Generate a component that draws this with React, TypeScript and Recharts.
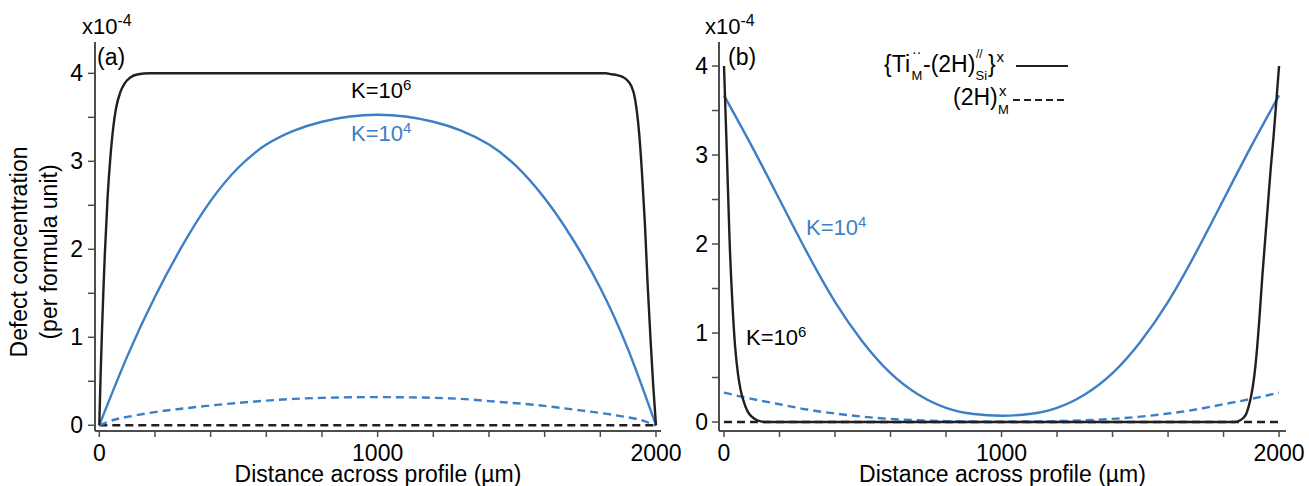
import React from "react";
import { LineChart, Line, XAxis, YAxis, Legend } from "recharts";

const FONT = '"Liberation Sans", Arial, Helvetica, sans-serif';
const BLACK = "#231f20";
const BLUE = "#3d7fc7";
const AXIS = "#4d4d4d";

// x ticks (µm) and y ticks (x10^-4)
const xTicks = [0, 200, 400, 600, 800, 1000, 1200, 1400, 1600, 1800, 2000];
const xLabelled = [0, 1000, 2000];
const yTicks = [0, 0.5, 1, 1.5, 2, 2.5, 3, 3.5, 4];

// panel (a): K=10^6 solid
const aBlackX = [0, 5, 10, 15, 20, 30, 40, 50, 60, 75, 90, 110, 140, 180, 1000, 1820, 1840, 1860, 1880, 1900, 1920, 1930, 1940, 1950, 1960, 1970, 1980, 1990, 2000];
const aBlackY = [0, 0.6, 1.1, 1.55, 1.95, 2.6, 3.05, 3.38, 3.6, 3.78, 3.88, 3.95, 3.99, 4.0, 4.0, 4.0, 3.99, 3.98, 3.96, 3.91, 3.78, 3.6, 3.3, 2.85, 2.3, 1.6, 1.0, 0.45, 0];
// panel (a): K=10^4 solid
const aBlueX = [0, 100, 200, 300, 400, 500, 600, 700, 800, 900, 1000, 1100, 1200, 1300, 1400, 1500, 1600, 1700, 1800, 1900, 2000];
const aBlueY = [0, 0.78, 1.46, 2.05, 2.55, 2.93, 3.19, 3.35, 3.45, 3.51, 3.53, 3.51, 3.45, 3.35, 3.19, 2.94, 2.58, 2.12, 1.56, 0.86, 0];
// panel (a): K=10^4 dashed
const aBlueDashX = [0, 50, 100, 200, 300, 400, 500, 600, 700, 800, 900, 1000, 1100, 1200, 1300, 1400, 1500, 1600, 1700, 1800, 1900, 1950, 2000];
const aBlueDashY = [0, 0.06, 0.095, 0.15, 0.19, 0.225, 0.255, 0.28, 0.3, 0.312, 0.318, 0.32, 0.318, 0.312, 0.3, 0.275, 0.25, 0.22, 0.18, 0.14, 0.09, 0.055, 0];
// panel (a): K=10^6 dashed
const aBlackDashX = [0, 2000];
const aBlackDashY = [0, 0];

// panel (b)
const bBlackX = [0, 10, 20, 30, 40, 50, 60, 70, 85, 100, 120, 150, 1000, 1840, 1860, 1880, 1890, 1900, 1910, 1920, 1930, 1940, 1950, 1960, 1970, 1980, 1990, 2000];
const bBlackY = [4.0, 3.05, 2.05, 1.35, 0.85, 0.55, 0.36, 0.24, 0.12, 0.06, 0.02, 0, 0, 0, 0.02, 0.08, 0.17, 0.3, 0.5, 0.8, 1.2, 1.65, 2.05, 2.45, 2.85, 3.2, 3.6, 4.0];
const bBlueX = [0, 100, 200, 300, 400, 500, 600, 700, 800, 900, 1000, 1100, 1200, 1300, 1400, 1500, 1600, 1700, 1800, 1900, 2000];
const bBlueY = [3.67, 3.1, 2.5, 1.9, 1.35, 0.9, 0.55, 0.31, 0.16, 0.09, 0.07, 0.09, 0.16, 0.31, 0.55, 0.9, 1.35, 1.9, 2.5, 3.1, 3.67];
const bBlueDashX = [0, 100, 200, 300, 400, 500, 600, 700, 800, 900, 1000, 1100, 1200, 1300, 1400, 1500, 1600, 1700, 1800, 1900, 2000];
const bBlueDashY = [0.33, 0.26, 0.2, 0.14, 0.095, 0.06, 0.035, 0.02, 0.01, 0.005, 0.003, 0.005, 0.01, 0.02, 0.035, 0.06, 0.095, 0.14, 0.2, 0.26, 0.33];
const bBlackDashX = [0, 2000];
const bBlackDashY = [0, 0];

const pts = (xs: number[], ys: number[]) => xs.map((x, i) => ({ x, y: ys[i] }));

type Series = { data: { x: number; y: number }[]; color: string; dashed?: boolean; name: string; curve: "monotone" | "natural" };

const seriesA: Series[] = [
  { name: "(2H) K=10^6", data: pts(aBlackDashX, aBlackDashY), color: BLACK, dashed: true, curve: "monotone" },
  { name: "(2H) K=10^4", data: pts(aBlueDashX, aBlueDashY), color: BLUE, dashed: true, curve: "natural" },
  { name: "Ti K=10^4", data: pts(aBlueX, aBlueY), color: BLUE, curve: "natural" },
  { name: "Ti K=10^6", data: pts(aBlackX, aBlackY), color: BLACK, curve: "monotone" },
];
const seriesB: Series[] = [
  { name: "(2H) K=10^6", data: pts(bBlackDashX, bBlackDashY), color: BLACK, dashed: true, curve: "monotone" },
  { name: "(2H) K=10^4", data: pts(bBlueDashX, bBlueDashY), color: BLUE, dashed: true, curve: "monotone" },
  { name: "Ti K=10^4", data: pts(bBlueX, bBlueY), color: BLUE, curve: "natural" },
  { name: "Ti K=10^6", data: pts(bBlackX, bBlackY), color: BLACK, curve: "monotone" },
];

const tickStyle = { fill: "#000", fontSize: 23, fontFamily: FONT };

const LegendBox = () => (
  <svg width={210} height={80} style={{ overflow: "visible", fontFamily: FONT }}>
    <g transform="translate(-870,-40)" fill="#000">
      <text x={884} y={71.5} fontSize={23}>{"{Ti"}</text>
      <text x={912} y={57} fontSize={14}>··</text>
      <text x={911.5} y={80} fontSize={13}>M</text>
      <text x={923} y={71.5} fontSize={23}>-(2H)</text>
      <text x={976} y={58} fontSize={12}>//</text>
      <text x={975.5} y={80} fontSize={13}>Si</text>
      <text x={988} y={71.5} fontSize={23}>{"}"}</text>
      <text x={996.5} y={62} fontSize={15}>x</text>
      <line x1={1016} x2={1068} y1={66} y2={66} stroke={BLACK} strokeWidth={2} />
      <text x={953} y={105} fontSize={23}>(2H)</text>
      <text x={999} y={95.5} fontSize={15}>x</text>
      <text x={998} y={114} fontSize={13}>M</text>
      <line x1={1013} x2={1068} y1={100} y2={100} stroke={BLACK} strokeWidth={2} strokeDasharray="7 4" />
    </g>
  </svg>
);

type PanelProps = {
  left: number;
  width: number;
  marginRight: number;
  yWidth: number;
  yTickMargin: number;
  xDomain: [number, number];
  yDomain: [number, number];
  series: Series[];
  legend?: boolean;
};

const Panel = ({ left, width, marginRight, yWidth, yTickMargin, xDomain, yDomain, series, legend }: PanelProps) => (
  <div style={{ position: "absolute", left, top: 0 }}>
    <LineChart width={width} height={486} margin={{ top: 42, right: marginRight, bottom: 0, left: 0 }}>
      <XAxis
        dataKey="x"
        type="number"
        domain={xDomain}
        allowDataOverflow
        ticks={xTicks}
        interval={0}
        tickFormatter={(v: number) => (xLabelled.includes(v) ? String(v) : "")}
        tick={tickStyle}
        tickSize={6}
        tickMargin={8}
        height={55}
        axisLine={{ stroke: AXIS, strokeWidth: 2 }}
        tickLine={{ stroke: AXIS, strokeWidth: 1.5 }}
        label={{ value: "Distance across profile (\u00b5m)", position: "insideBottom", offset: 4, fill: "#000", fontSize: 23, fontFamily: FONT }}
      />
      <XAxis xAxisId="top" orientation="top" type="number" domain={xDomain} allowDataOverflow height={0} tick={false} tickLine={false} axisLine={{ stroke: AXIS, strokeWidth: 2 }} />
      <YAxis
        type="number"
        domain={yDomain}
        allowDataOverflow
        ticks={yTicks}
        interval={0}
        tickFormatter={(v: number) => (Number.isInteger(v) ? String(v) : "")}
        tick={tickStyle}
        tickSize={7}
        tickMargin={yTickMargin}
        width={yWidth}
        axisLine={{ stroke: AXIS, strokeWidth: 2 }}
        tickLine={{ stroke: AXIS, strokeWidth: 1.5 }}
      />
      <YAxis yAxisId="right" orientation="right" type="number" domain={yDomain} allowDataOverflow width={0} tick={false} tickLine={false} axisLine={{ stroke: AXIS, strokeWidth: 2 }} />
      {series.map((s) => (
        <Line
          key={s.name}
          name={s.name}
          data={s.data}
          dataKey="y"
          type={s.curve}
          stroke={s.color}
          strokeWidth={2.4}
          strokeDasharray={s.dashed ? "8 5" : undefined}
          dot={false}
          activeDot={false}
          isAnimationActive={false}
        />
      ))}
      {legend && (
        <Legend
          layout="vertical"
          align="center"
          verticalAlign="middle"
          content={() => <LegendBox />}
          wrapperStyle={{ left: 190, top: 40, width: 210, height: 80 }}
        />
      )}
    </LineChart>
  </div>
);

const Sup = ({ x, y, base, sup, color, size = 22, supSize = 15 }: { x: number; y: number; base: string; sup: string; color: string; size?: number; supSize?: number }) => (
  <text x={x} y={y} fill={color} fontSize={size}>
    {base}
    <tspan fontSize={supSize} dy={-8}>{sup}</tspan>
  </text>
);

export default function App() {
  return (
    <div style={{ position: "absolute", left: 0, top: 0, width: 1309, height: 486, background: "#fff", fontFamily: FONT }}>
      <Panel left={0} width={700} marginRight={39} yWidth={95} yTickMargin={5} xDomain={[-15.4, 2018]} yDomain={[-0.065, 4.356]} series={seriesA} />
      <Panel left={680} width={629} marginRight={23} yWidth={39} yTickMargin={4} xDomain={[-18, 2025]} yDomain={[-0.101, 4.27]} series={seriesB} legend />
      <svg width={1309} height={486} style={{ position: "absolute", left: 0, top: 0, pointerEvents: "none", fontFamily: FONT }}>
        <Sup x={82} y={33.5} base="x10" sup="-4" color="#000" size={22} supSize={16} />
        <Sup x={705} y={33.5} base="x10" sup="-4" color="#000" size={22} supSize={16} />
        <text x={97} y={65} fontSize={23} fill="#000">(a)</text>
        <text x={728} y={65} fontSize={23} fill="#000">(b)</text>
        <Sup x={351} y={98} base="K=10" sup="6" color="#000" />
        <Sup x={351} y={141} base="K=10" sup="4" color={BLUE} />
        <Sup x={806} y={235} base="K=10" sup="4" color={BLUE} />
        <Sup x={746} y={345} base="K=10" sup="6" color="#000" />
        <g transform="translate(27,252) rotate(-90)">
          <text x={0} y={0} fontSize={23} textAnchor="middle" fill="#000">Defect concentration</text>
          <text x={0} y={30} fontSize={23} textAnchor="middle" fill="#000">(per formula unit)</text>
        </g>
      </svg>
    </div>
  );
}
